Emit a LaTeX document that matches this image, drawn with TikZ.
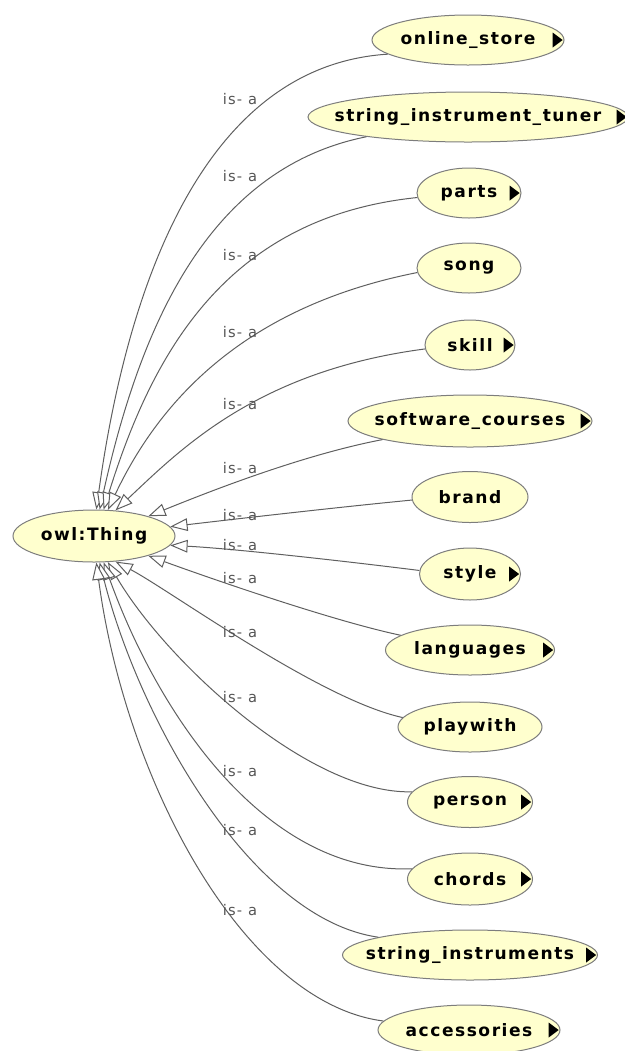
\documentclass[tikz,border=0pt]{standalone}
\usepackage{fontspec}
\setmainfont{DejaVu Sans}
\newfontfamily\nodefont[LetterSpace=9]{DejaVu Sans}
\newfontfamily\labfont[LetterSpace=8]{DejaVu Sans}
\usetikzlibrary{arrows.meta,shapes.geometric}
\definecolor{nodefill}{RGB}{255,255,206}
\definecolor{bordergray}{RGB}{125,125,125}
\definecolor{edgegray}{RGB}{95,95,95}
\definecolor{labgray}{RGB}{85,85,85}
\begin{document}
\begin{tikzpicture}[x=0.75pt,y=-0.75pt,
  cls/.style={ellipse,draw=bordergray,fill=nodefill,line width=0.75pt,inner sep=0pt,
    font=\nodefont\bfseries\fontsize{12.8}{15}\selectfont,text=black},
  sz/.style 2 args={minimum width=#1*0.75pt,minimum height=#2*0.75pt},
  sub/.style={path picture={\fill[black] ([xshift=-1pt]path picture bounding box.east) -- ++(-10,-7.5) -- ++(0,15) -- cycle;}},
  isa/.style={draw=edgegray,line width=0.75pt,-{Triangle[open,length=13pt,width=9.5pt,fill=white]}},
  lbl/.style={font=\labfont\fontsize{11}{13}\selectfont,text=labgray,inner sep=0pt}]
\useasboundingbox (0,0) rectangle (625,1051);
% nodes
\node[cls,sz={162}{52}] (thing) at (94,536) {\makebox[0pt]{owl:Thing}};
\node[cls,sub,sz={192}{50}] (onl) at (468,40) {\makebox[0pt]{online\_store}};
\node[cls,sub,sz={320}{50}] (tuner) at (468,117) {\makebox[0pt]{string\_instrument\_tuner}};
\node[cls,sub,sz={104}{50}] (parts) at (469,193) {\makebox[0pt]{parts}};
\node[cls,sz={104}{50}] (song) at (469,268) {\makebox[0pt]{song}};
\node[cls,sub,sz={90}{50}] (skill) at (470,345) {\makebox[0pt]{skill}};
\node[cls,sub,sz={244}{52}] (soft) at (470,421) {\makebox[0pt]{software\_courses}};
\node[cls,sz={116}{51}] (brand) at (470,497) {\makebox[0pt]{brand}};
\node[cls,sub,sz={101}{52}] (style) at (470,574) {\makebox[0pt]{style}};
\node[cls,sub,sz={169}{50}] (lang) at (470,650) {\makebox[0pt]{languages}};
\node[cls,sz={144}{50}] (play) at (470,727) {\makebox[0pt]{playwith}};
\node[cls,sub,sz={125}{51}] (person) at (470,802) {\makebox[0pt]{person}};
\node[cls,sub,sz={125}{52}] (chords) at (470,879) {\makebox[0pt]{chords}};
\node[cls,sub,sz={255}{50}] (strins) at (470,955) {\makebox[0pt]{string\_instruments}};
\node[cls,sub,sz={182}{50}] (acc) at (469,1030) {\makebox[0pt]{accessories}};
% edges
\draw[isa] (onl.190) .. controls +(-190,12) and +(29,-210) .. (thing.85);
\draw[isa] (tuner.191) .. controls +(-160,32) and +(40,-180) .. (thing.78);
\draw[isa] (parts.185) .. controls +(-195,20) and +(47,-150) .. (thing.70);
\draw[isa] (song.185) .. controls +(-172,34) and +(52,-110) .. (thing.62);
\draw[isa] (skill.185) .. controls +(-168,22) and +(65,-61) .. (thing.50);
\draw[isa] (soft.192) .. controls +(-84,16) and +(52,-21) .. (thing.20);
\draw[isa] (brand.183) .. controls +(-82,8) and +(60,-7) .. (thing.7);
\draw[isa] (style.176) .. controls +(-80,-10) and +(60,3) .. (thing.-7);
\draw[isa] (lang.168) .. controls +(-71,-15) and +(52,19) .. (thing.-20);
\draw[isa] (play.172) .. controls +(-83,-18) and +(55,29) .. (thing.-50);
\draw[isa] (person.170) .. controls +(-103,3) and +(57,98) .. (thing.-62);
\draw[isa] (chords.170) .. controls +(-143,6) and +(57,158) .. (thing.-70);
\draw[isa] (strins.169) .. controls +(-127,-18) and +(40,158) .. (thing.-78);
\draw[isa] (acc.174) .. controls +(-140,-18) and +(29,218) .. (thing.-85);
% labels
\node[lbl] (l1) at (240,99) {is- a};
\node[lbl] (l2) at (240,176) {is- a};
\node[lbl] (l3) at (240,255) {is- a};
\node[lbl] (l4) at (240,332) {is- a};
\node[lbl] (l5) at (240,404) {is- a};
\node[lbl] (l6) at (240,468) {is- a};
\node[lbl] (l7) at (240,515) {is- a};
\node[lbl] (l8) at (240,545) {is- a};
\node[lbl] (l9) at (240,578) {is- a};
\node[lbl] (l10) at (240,632) {is- a};
\node[lbl] (l11) at (240,697) {is- a};
\node[lbl] (l12) at (240,771) {is- a};
\node[lbl] (l13) at (240,830) {is- a};
\node[lbl] (l14) at (240,910) {is- a};
\end{tikzpicture}
\end{document}
